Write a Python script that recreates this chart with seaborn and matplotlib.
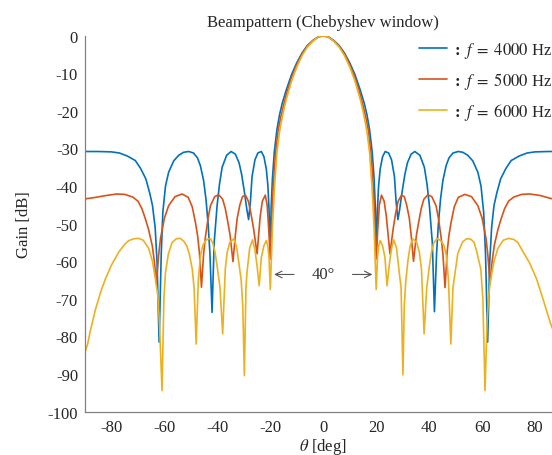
import matplotlib
matplotlib.use("Agg")
import matplotlib.pyplot as plt
import numpy as np
import pandas as pd
import seaborn as sns

# ---------------- data ----------------
series_labels = [r"$\mathbf{:}\ f\;=\;4000$ Hz", r"$\mathbf{:}\ f\;=\;5000$ Hz", r"$\mathbf{:}\ f\;=\;6000$ Hz"]
series_colors = ["#0072BD", "#D95319", "#EDB120"]

theta_4000 = [-90, -85, -80, -77, -74, -71, -69, -67, -65.5, -64.5, -63.5, -62.8, -62, -61.2, -60.6, -59.6,
              -58.4, -56.5, -54.6, -52.7, -50.8, -49, -47.5, -46.4, -45.2, -44.3, -43.5, -42.8, -42, -41.2,
              -40.1, -39.2, -38.2, -36.5, -34.8, -33.2, -31.8, -30.8, -29.8, -28.8, -28.2, -27.5, -26.9,
              -25.8, -24.7, -23.4, -22.4, -21.5, -20.9, -20.5, -20, -19.7, -19.2, -18.5, -17.5, -16.5,
              -15.5, -14, -12, -10, -8, -6, -4, -2, 0,
              2, 4, 6, 8, 10, 12, 14, 15.5, 16.5, 17.5, 18.5, 19.2, 19.7, 20, 20.5, 20.9, 21.5, 22.4, 23.4,
              24.7, 25.8, 26.9, 27.5, 28.2, 28.8, 29.8, 30.8, 31.8, 33.2, 34.6, 36.5, 38.2, 39.2, 40.1,
              41.2, 42, 42.8, 43.5, 44.3, 45.2, 46.4, 47.5, 49, 51, 52.7, 54.6, 56.5, 58.4, 59.6, 60.6,
              61.3, 62.1, 62.9, 63.6, 64.5, 65.5, 67, 69, 71, 74, 77, 80, 85, 90]
gain_4000 = [-30.8, -30.8, -30.9, -31.2, -32.0, -33.2, -35.3, -38.1, -42.0, -45.2, -51.0, -60.0, -81.5, -58.0,
             -47.0, -40.0, -36.3, -33.3, -31.8, -31.0, -30.8, -31.2, -32.5, -34.6, -38.5, -43.5, -50.0, -58.0,
             -73.6, -55.0, -45.2, -39.5, -35.0, -31.8, -30.8, -31.5, -33.8, -37.0, -41.5, -46.5, -48.9,
             -44.0, -37.5, -33.0, -31.2, -30.8, -32.2, -35.5, -40.0, -46.0, -58.0, -46.0, -38.0, -31.0,
             -25.0, -21.0, -18.0, -14.5, -10.4, -7.2, -4.6, -2.6, -1.3, -0.35, 0.0,
             -0.35, -1.3, -2.6, -4.6, -7.2, -10.4, -14.5, -18.0, -21.0, -25.0, -31.0, -38.0, -46.0, -58.0,
             -46.0, -40.0, -35.5, -32.2, -30.8, -31.2, -33.0, -37.5, -44.0, -48.9, -46.5, -41.5, -37.0,
             -33.8, -31.5, -30.8, -31.8, -35.0, -39.5, -45.2, -55.0, -73.4, -58.0, -50.0, -43.5, -38.5,
             -34.6, -32.5, -31.2, -30.8, -31.0, -31.8, -33.3, -36.3, -40.0, -47.0, -58.0, -81.5, -60.0,
             -51.0, -45.2, -42.0, -38.1, -35.3, -33.2, -32.0, -31.2, -30.9, -30.8, -30.8]

theta_5000 = [-90, -86, -82, -78, -75, -72, -70, -68.5, -67.2, -66, -64.6, -63.8, -63, -62.2, -61.5, -60,
              -58.4, -56, -53.3, -51, -49.5, -48.3, -47.5, -46.8, -46, -45.2, -44.5, -43.5, -42.6, -41,
              -39.5, -38, -37, -36.2, -35.2, -34.1, -33.2, -32.5, -31.5, -30.5, -29.4, -28.3, -27.4,
              -26.3, -25, -23.8, -23, -21.9, -21.2, -20.6, -20, -19.4, -18.8, -18, -17, -16, -15, -14,
              -12, -10, -8, -6, -4, -2, 0,
              2, 4, 6, 8, 10, 12, 14, 15, 16, 17, 18, 18.8, 19.4, 20, 20.6, 21.2, 22, 23, 23.8, 25.2,
              26.4, 27.4, 28.3, 29.6, 30.6, 31.5, 32.5, 33.2, 34.1, 35.2, 36.2, 37, 38, 39.5, 41, 42.6,
              43.5, 44.5, 45.2, 46, 46.8, 47.5, 48.3, 49.5, 51, 53.5, 56, 58.4, 60, 61.5, 62.2, 63, 63.8,
              64.6, 66, 67.2, 68.5, 70, 72, 75, 78, 82, 86, 90]
gain_5000 = [-43.4, -43.0, -42.5, -42.1, -42.2, -42.9, -44.0, -46.0, -48.7, -51.5, -55.8, -60.0, -66.0, -58.5,
             -54.0, -48.5, -45.2, -42.8, -42.1, -43.0, -45.5, -49.6, -53.0, -57.5, -66.9, -58.0, -53.5,
             -48.5, -45.2, -42.8, -42.3, -43.5, -46.0, -49.0, -53.0, -60.1, -53.0, -48.5, -45.0, -42.8,
             -42.4, -44.0, -47.0, -51.4, -58.0, -47.9, -44.0, -42.4, -45.0, -51.4, -59.4, -48.0, -39.0,
             -31.0, -25.0, -21.5, -18.5, -15.7, -11.2, -7.7, -4.9, -2.8, -1.4, -0.38, 0.0,
             -0.38, -1.4, -2.8, -4.9, -7.7, -11.2, -15.7, -18.5, -21.5, -25.0, -31.0, -39.0, -48.0, -59.4,
             -51.4, -45.0, -42.4, -44.0, -47.9, -58.0, -51.4, -47.0, -44.0, -42.4, -42.8, -45.0, -48.5,
             -53.0, -60.0, -53.0, -49.0, -46.0, -43.5, -42.3, -42.8, -45.2, -48.5, -53.5, -58.0, -67.0,
             -57.5, -53.0, -49.6, -45.5, -43.0, -42.2, -42.8, -45.2, -48.5, -54.0, -58.5, -66.0, -60.0,
             -55.8, -51.5, -48.7, -46.0, -44.0, -42.9, -42.2, -42.1, -42.5, -43.3, -43.6]

theta_6000 = [-90, -89, -88, -86, -84, -82.3, -80, -77.2, -75, -73.5, -71.5, -69.7, -68, -66, -64.5, -63.4,
              -62.5, -61.9, -60.9, -60.2, -59.6, -58.5, -57.1, -55.5, -54, -52.5, -51.5, -50.6, -49.5,
              -48.8, -48, -47.2, -46.4, -45.5, -44.5, -43.5, -42.6, -41.7, -40.9, -40.1, -39, -38, -37,
              -36.3, -35.3, -33.8, -32.8, -32, -31, -30.4, -29.8, -29.2, -28.8, -27.8, -26.7, -25.8, -25,
              -24.2, -23.4, -22.4, -21.5, -20.9, -20.5, -20, -19.2, -18.4, -17.5, -16.5, -16, -15, -14,
              -12, -10, -8, -6, -4, -2, 0,
              2, 4, 6, 8, 10, 12, 14, 15, 16, 16.5, 17.5, 18.4, 19.2, 20, 20.5, 20.9, 21.5, 22.4, 23.3,
              24.1, 24.9, 25.7, 26.6, 27.7, 28.7, 29.4, 30.1, 30.6, 31.2, 32, 32.8, 33.8, 35.3, 36.3,
              37.1, 38.1, 39.1, 40.1, 40.9, 41.7, 42.9, 43.8, 44.7, 45.6, 46.5, 47.3, 48.2, 49, 49.8,
              50.8, 51.7, 52.7, 54.2, 55.7, 57, 58, 59.5, 60.3, 61.1, 61.9, 62.5, 63.2, 64.5, 66, 68, 70,
              72, 73.5, 75.6, 78, 80.6, 83, 85.7, 88, 90]
gain_6000 = [-84.2, -82.0, -78.5, -72.7, -68.0, -64.7, -61.0, -57.5, -55.5, -54.5, -54.0, -53.9, -54.4, -56.5,
             -60.0, -64.7, -69.0, -76.0, -94.4, -70.0, -63.0, -58.0, -55.0, -54.0, -53.9, -54.8, -56.0,
             -58.0, -62.0, -67.0, -82.0, -65.0, -58.5, -55.8, -54.6, -54.0, -54.0, -55.2, -57.5, -61.2,
             -67.0, -79.3, -62.0, -57.6, -55.0, -54.0, -56.0, -59.8, -65.0, -72.0, -90.4, -67.0, -62.9,
             -56.5, -54.3, -57.0, -61.2, -66.5, -59.0, -55.8, -54.5, -56.0, -59.0, -67.5, -51.0, -40.0,
             -31.0, -25.5, -23.5, -20.0, -17.0, -12.1, -8.3, -5.3, -3.0, -1.5, -0.4, 0.0,
             -0.4, -1.5, -3.0, -5.3, -8.3, -12.1, -17.0, -20.0, -23.5, -25.5, -31.0, -40.0, -51.0, -67.5,
             -59.0, -56.0, -54.5, -55.8, -59.0, -66.5, -61.2, -57.0, -54.3, -56.5, -62.9, -67.0, -90.2,
             -72.0, -65.0, -59.8, -56.0, -54.0, -55.0, -57.6, -62.0, -79.3, -67.0, -61.2, -57.5, -55.2,
             -54.0, -54.2, -54.8, -55.8, -58.5, -65.0, -82.0, -67.0, -63.0, -58.0, -56.4, -54.8, -54.0,
             -54.1, -55.0, -57.5, -62.0, -70.0, -94.4, -76.0, -69.0, -65.0, -60.0, -56.5, -54.4, -53.9,
             -54.2, -55.0, -57.6, -60.5, -64.7, -70.0, -76.2, -80.5, -84.0]

x_ticks = [-80, -60, -40, -20, 0, 20, 40, 60, 80]
y_ticks = [-100, -90, -80, -70, -60, -50, -40, -30, -20, -10, 0]

# ---------------- style ----------------
sns.set_theme(style="white")
plt.rcParams["font.family"] = ["Liberation Serif", "DejaVu Serif"]
plt.rcParams["mathtext.fontset"] = "stix"

W, H = 552, 456
fig = plt.figure(figsize=(W / 100, H / 100), dpi=100)
ax_left, ax_right, ax_top, ax_bottom = 85, 561.5, 36.7, 412.7
ax = fig.add_axes([ax_left / W, 1 - ax_bottom / H, (ax_right - ax_left) / W, (ax_bottom - ax_top) / H])

frames = []
for lab, th, g in zip(series_labels,
                      [theta_4000, theta_5000, theta_6000],
                      [gain_4000, gain_5000, gain_6000]):
    frames.append(pd.DataFrame({"theta": th, "gain": g, "series": lab}))
df = pd.concat(frames, ignore_index=True)

sns.lineplot(data=df, x="theta", y="gain", hue="series", hue_order=series_labels,
             palette=series_colors, estimator=None, sort=False, linewidth=1.2, ax=ax)

ax.set_xlim(-90, 90)
ax.set_ylim(-100, 0)
ax.set_xticks(x_ticks)
ax.set_xticklabels([str(v) for v in x_ticks])
ax.set_yticks(y_ticks)
ax.set_yticklabels([str(v) for v in y_ticks])

for s in ["top", "right"]:
    ax.spines[s].set_visible(False)
for s in ["left", "bottom"]:
    ax.spines[s].set_color("#808080")
    ax.spines[s].set_linewidth(0.9)
ax.tick_params(axis="both", direction="in", length=4, width=0.9, color="#808080",
               labelcolor="#262626", labelsize=12)
ax.tick_params(axis="y", pad=5)
ax.tick_params(axis="x", pad=5)

ax.set_xlabel(r"$\theta$ [deg]", fontsize=12, color="#262626", labelpad=1)
ax.set_ylabel("Gain [dB]", fontsize=12, color="#262626", labelpad=11)
ax.set_title("Beampattern (Chebyshev window)", fontsize=12, color="#262626", pad=7)

# 40 degree annotation
ax.annotate("", xy=(-19.6, -63.5), xytext=(-10, -63.5),
            arrowprops=dict(arrowstyle="->", color="#555555", lw=0.8))
ax.annotate("", xy=(19.6, -63.5), xytext=(10, -63.5),
            arrowprops=dict(arrowstyle="->", color="#555555", lw=0.8))
ax.text(0, -63.5, "40°", ha="center", va="center", fontsize=12, color="#333333")

leg = ax.legend(loc="upper left", bbox_to_anchor=(419 / W, 1 - 41 / H), bbox_transform=fig.transFigure,
                frameon=False, handlelength=1.65, handletextpad=0.3, labelspacing=0.6,
                borderpad=0, borderaxespad=0, fontsize=12)
for t in leg.get_texts():
    t.set_color("#262626")

fig.savefig("out.png", dpi=100)
